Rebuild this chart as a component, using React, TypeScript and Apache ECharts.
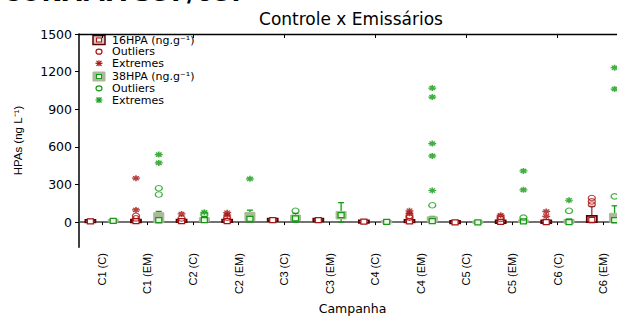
import React, { useEffect, useRef } from "react";
import * as echarts from "echarts";

const categories = [
  "C1 (C)", "C1 (EM)", "C2 (C)", "C2 (EM)", "C3 (C)", "C3 (EM)",
  "C4 (C)", "C4 (EM)", "C5 (C)", "C5 (EM)", "C6 (C)", "C6 (EM)",
];
const yTickValues = [0, 300, 600, 900, 1200, 1500];

// [min, Q1, median, Q3, max]
const hpa16Boxes = [
  [-5, 0, 6, 16, 22],
  [0, 2, 8, 15, 25],
  [0, 3, 8, 15, 20],
  [0, 2, 8, 18, 25],
  [2, 8, 15, 28, 35],
  [2, 8, 15, 25, 35],
  [-5, 0, 3, 8, 12],
  [0, 2, 6, 12, 20],
  [-12, -6, -2, 5, 10],
  [-8, -3, 2, 8, 15],
  [-12, -5, 0, 10, 20],
  [-5, 0, 18, 50, 125],
];
const hpa16Outliers = [[], [30, 50], [30], [35], [], [], [], [35, 50], [], [25, 40], [], [140, 165, 192]];
const hpa16Extremes = [[], [97, 350], [65], [55, 75], [], [], [], [70, 90], [], [55], [46, 85], []];

const hpa38Boxes = [
  [-5, 3, 10, 18, 22],
  [-5, -5, 15, 75, 85],
  [0, 5, 15, 35, 45],
  [0, 12, 25, 77, 95],
  [0, 12, 30, 56, 70],
  [0, 25, 55, 85, 155],
  [-8, -3, 2, 8, 12],
  [-3, 0, 8, 42, 45],
  [-12, -6, -2, 5, 10],
  [-5, 0, 5, 15, 20],
  [-12, -10, 0, 22, 25],
  [-5, -3, 15, 70, 130],
];
const hpa38Outliers = [[], [220, 270], [60], [], [90], [], [], [134], [], [35], [90], [205]];
const hpa38Extremes = [[], [472, 538], [78], [345], [], [], [], [252, 528, 626, 997, 1069], [], [257, 408], [174], [1061, 1231]];

const RED_DARK = "#5a0000";
const RED = "#a81414";
const RED_WHISK = "#a03838";
const GREEN = "#139a13";
const GREEN_BOX = "#a9ba96";

const GRID_LEFT = 79;
const CHART_W = 630;
const GRID_RIGHT = 4;
const BAND = (CHART_W - GRID_LEFT - GRID_RIGHT) / categories.length;
const OFF = BAND * 0.25;

const ASTERISK = "path://M0,5L10,5M5,0L5,10M1.5,1.5L8.5,8.5M8.5,1.5L1.5,8.5";

function toPoints(list: number[][]) {
  const out: number[][] = [];
  list.forEach((vals, i) => vals.forEach((v) => out.push([i, v])));
  return out;
}

function boxRenderer(side: number, kind: "red" | "green") {
  return (params: any, api: any) => {
    const cat = api.value(0);
    const band = api.size([1, 0])[0];
    const x = api.coord([cat, 0])[0] + side * band * 0.25;
    const yLow = api.coord([cat, api.value(1)])[1];
    const yQ1 = api.coord([cat, api.value(2)])[1];
    const yMed = api.coord([cat, api.value(3)])[1];
    const yQ3 = api.coord([cat, api.value(4)])[1];
    const yHigh = api.coord([cat, api.value(5)])[1];
    const bw = 10;
    const cap = 6;
    const ms = 6;
    const whisk = kind === "red" ? RED_WHISK : GREEN;
    const boxH = Math.max(yQ1 - yQ3, 2.5);
    const children: any[] = [
      { type: "line", shape: { x1: x, y1: yHigh, x2: x, y2: yQ3 }, style: { stroke: whisk, lineWidth: 1.3 } },
      { type: "line", shape: { x1: x, y1: yQ1, x2: x, y2: yLow }, style: { stroke: whisk, lineWidth: 1.3 } },
      { type: "line", shape: { x1: x - cap / 2, y1: yHigh, x2: x + cap / 2, y2: yHigh }, style: { stroke: whisk, lineWidth: 1.3 } },
      { type: "line", shape: { x1: x - cap / 2, y1: yLow, x2: x + cap / 2, y2: yLow }, style: { stroke: whisk, lineWidth: 1.3 } },
      {
        type: "rect",
        shape: { x: x - bw / 2, y: yQ3 - (boxH - (yQ1 - yQ3)) / 2, width: bw, height: boxH },
        style: kind === "red"
          ? { fill: "#ffffff", stroke: RED_DARK, lineWidth: 1.8 }
          : { fill: GREEN_BOX, stroke: GREEN_BOX, lineWidth: 1 },
      },
      {
        type: "rect",
        shape: { x: x - ms / 2, y: yMed - 2.5, width: ms, height: 5 },
        style: kind === "red"
          ? { fill: "#ffffff", stroke: RED, lineWidth: 1.2 }
          : { fill: "#eef6e8", stroke: GREEN, lineWidth: 1.2 },
      },
    ];
    return { type: "group", children };
  };
}

function legendBox(y: number, kind: "red" | "green") {
  return [
    {
      type: "rect",
      shape: { x: 93, y: y - 4.5, width: 12, height: 9 },
      style: kind === "red"
        ? { fill: "#dccaca", stroke: RED_DARK, lineWidth: 1.5 }
        : { fill: GREEN_BOX, stroke: GREEN_BOX, lineWidth: 1 },
    },
    {
      type: "rect",
      shape: { x: 96.5, y: y - 2, width: 5, height: 4 },
      style: { fill: "#ffffff", stroke: kind === "red" ? RED : GREEN, lineWidth: 1.1 },
    },
  ];
}

function legendCircle(y: number, color: string) {
  return { type: "ellipse", shape: { cx: 99, cy: y, rx: 3, ry: 2.5 }, style: { fill: "none", stroke: color, lineWidth: 1.2 } };
}

function legendStar(y: number, color: string) {
  const s = { stroke: color, lineWidth: 1.2 };
  return [
    { type: "line", shape: { x1: 95.5, y1: y, x2: 102.5, y2: y }, style: s },
    { type: "line", shape: { x1: 99, y1: y - 3, x2: 99, y2: y + 3 }, style: s },
    { type: "line", shape: { x1: 96.5, y1: y - 2.5, x2: 101.5, y2: y + 2.5 }, style: s },
    { type: "line", shape: { x1: 101.5, y1: y - 2.5, x2: 96.5, y2: y + 2.5 }, style: s },
  ];
}

function legendText(y: number, text: string) {
  return {
    type: "text",
    x: 112,
    y,
    style: { text, fill: "#000", font: "11px 'DejaVu Sans'", textVerticalAlign: "middle", textAlign: "left" },
  };
}

export default function App() {
  const ref = useRef<HTMLDivElement>(null);
  useEffect(() => {
    document.body.style.overflow = "hidden";
    const chart = echarts.init(ref.current!, undefined, { renderer: "svg" });
    const rows = [40, 51.7, 63.3, 76.5, 88.3, 100];
    const option: any = {
      animation: false,
      backgroundColor: "#ffffff",
      grid: { left: GRID_LEFT, right: GRID_RIGHT, top: 34, bottom: 66 },
      xAxis: [
        {
          type: "category",
          data: categories,
          boundaryGap: true,
          position: "bottom",
          axisLine: { show: true, lineStyle: { color: "#444", width: 1.5 } },
          axisTick: { show: true, alignWithLabel: true, length: 3, lineStyle: { color: "#000" } },
          axisLabel: { rotate: 90, margin: 6, fontSize: 11, fontFamily: "Liberation Sans", color: "#000", interval: 0 },
          name: "Campanha",
          nameLocation: "middle",
          nameGap: 50,
          nameTextStyle: { fontSize: 12.5, fontFamily: "DejaVu Sans", color: "#000" },
          splitLine: { show: false },
        },
        {
          type: "category",
          data: categories,
          boundaryGap: true,
          position: "top",
          axisLine: { show: true, lineStyle: { color: "#000", width: 1.3 } },
          axisTick: { show: true, alignWithLabel: true, inside: true, length: 4, lineStyle: { color: "#000" } },
          axisLabel: { show: false },
          splitLine: { show: false },
        },
      ],
      yAxis: {
        type: "value",
        min: -200,
        max: 1500,
        interval: 100,
        axisLine: { show: true, lineStyle: { color: "#000", width: 1.5 } },
        axisTick: { show: true, length: 4, customValues: yTickValues, lineStyle: { color: "#000" } },
        axisLabel: {
          customValues: yTickValues,
          formatter: (v: number) => String(v),
          margin: 7,
          fontSize: 12.5,
          fontFamily: "DejaVu Sans",
          color: "#000",
        },
        splitLine: { show: false },
        name: "HPAs (ng L⁻¹)",
        nameLocation: "middle",
        nameRotate: 90,
        nameGap: 55,
        nameTextStyle: { fontSize: 11.5, fontFamily: "Liberation Sans", color: "#000" },
      },
      series: [
        {
          name: "16HPA",
          type: "custom",
          renderItem: boxRenderer(-1, "red"),
          encode: { x: 0, y: [1, 2, 3, 4, 5] },
          data: hpa16Boxes.map((b, i) => [i, ...b]),
          z: 2,
        },
        {
          name: "38HPA",
          type: "custom",
          renderItem: boxRenderer(1, "green"),
          encode: { x: 0, y: [1, 2, 3, 4, 5] },
          data: hpa38Boxes.map((b, i) => [i, ...b]),
          z: 2,
        },
        {
          name: "16HPA Outliers",
          type: "scatter",
          symbol: "circle",
          symbolSize: [7, 5.5],
          symbolOffset: [-OFF, 0],
          itemStyle: { color: "none", borderColor: RED, borderWidth: 1.2 },
          data: toPoints(hpa16Outliers),
          z: 3,
        },
        {
          name: "16HPA Extremes",
          type: "scatter",
          symbol: ASTERISK,
          symbolSize: [8, 6],
          symbolOffset: [-OFF, 0],
          itemStyle: { color: RED, borderColor: RED, borderWidth: 1.4 },
          data: toPoints(hpa16Extremes),
          z: 3,
        },
        {
          name: "38HPA Outliers",
          type: "scatter",
          symbol: "circle",
          symbolSize: [7, 5.5],
          symbolOffset: [OFF, 0],
          itemStyle: { color: "none", borderColor: GREEN, borderWidth: 1.2 },
          data: toPoints(hpa38Outliers),
          z: 3,
        },
        {
          name: "38HPA Extremes",
          type: "scatter",
          symbol: ASTERISK,
          symbolSize: [8, 6],
          symbolOffset: [OFF, 0],
          itemStyle: { color: GREEN, borderColor: GREEN, borderWidth: 1.4 },
          data: toPoints(hpa38Extremes),
          z: 3,
        },
      ],
      graphic: [
        {
          type: "text",
          x: 2,
          y: -8,
          style: { text: "CONAMA 357/05:", fill: "#000", font: "bold 25px 'DejaVu Sans'", textVerticalAlign: "middle", textAlign: "left" },
        },
        {
          type: "text",
          x: 351,
          y: 19,
          style: { text: "Controle x Emissários", fill: "#000", font: "17px 'DejaVu Sans'", textVerticalAlign: "middle", textAlign: "center" },
        },
        ...legendBox(rows[0], "red"),
        legendText(rows[0], "16HPA (ng.g⁻¹)"),
        legendCircle(rows[1], RED),
        legendText(rows[1], "Outliers"),
        ...legendStar(rows[2], RED),
        legendText(rows[2], "Extremes"),
        ...legendBox(rows[3], "green"),
        legendText(rows[3], "38HPA (ng.g⁻¹)"),
        legendCircle(rows[4], GREEN),
        legendText(rows[4], "Outliers"),
        ...legendStar(rows[5], GREEN),
        legendText(rows[5], "Extremes"),
      ],
    };
    chart.setOption(option);
    return () => chart.dispose();
  }, []);
  return (
    <div
      ref={ref}
      style={{ position: "fixed", left: 0, top: 0, width: CHART_W, height: 320, background: "#fff" }}
    />
  );
}
